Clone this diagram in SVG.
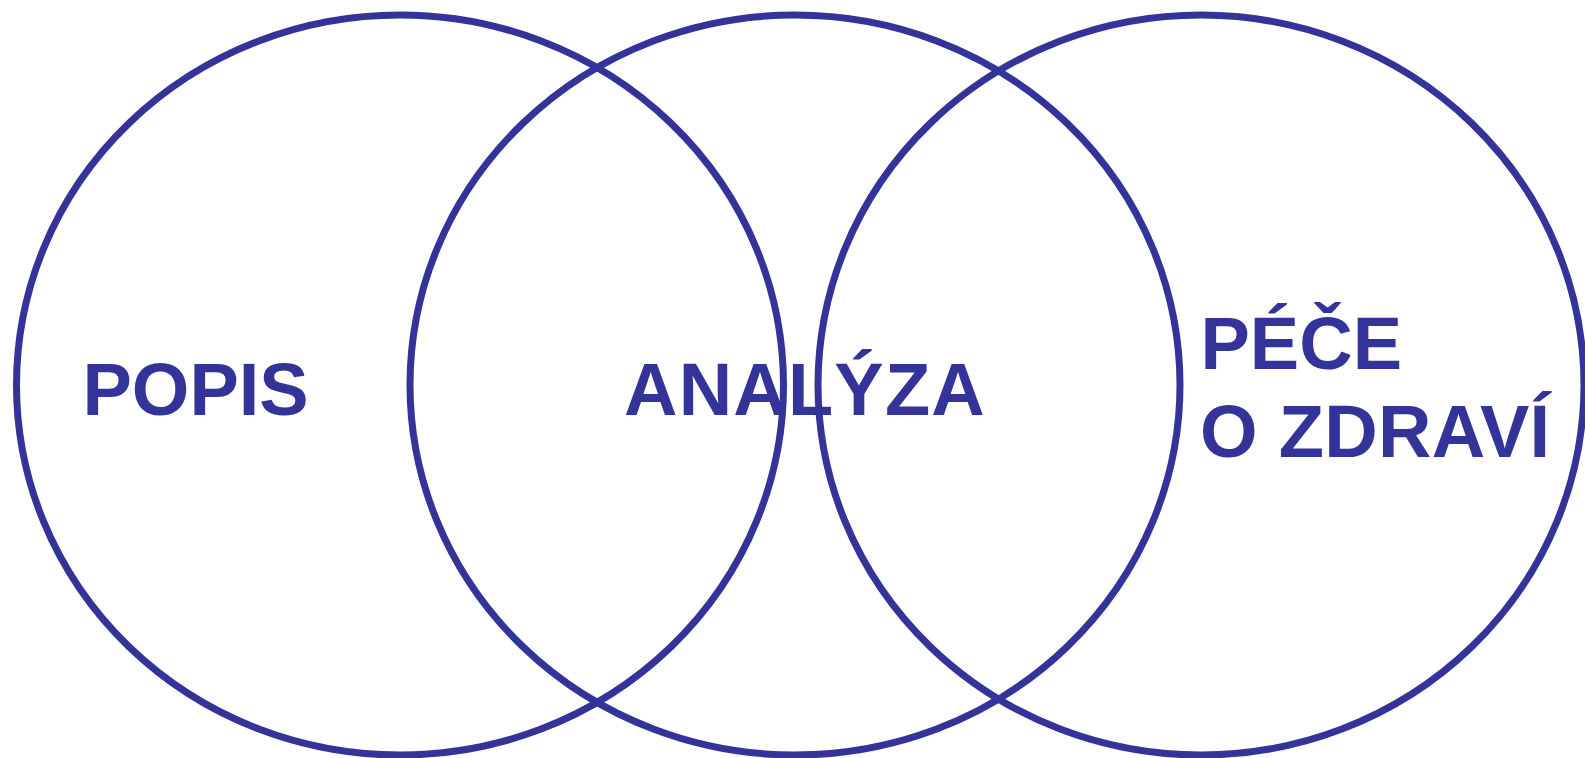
<svg xmlns="http://www.w3.org/2000/svg" width="1585" height="758" viewBox="0 0 1585 758">
<style>
.c{fill:none;stroke:#333399;stroke-width:7}
.t{font-family:"Liberation Sans",Arial,sans-serif;font-weight:bold;font-size:74px;fill:#333399}
</style>
<rect width="1585" height="758" fill="#ffffff"/>
<g id="circles">
<ellipse id="c-popis" class="c" cx="400" cy="385" rx="383.5" ry="370"/>
<ellipse id="c-analyza" class="c" cx="795" cy="385" rx="385" ry="370"/>
<ellipse id="c-pece" class="c" cx="1201" cy="385" rx="383" ry="370"/>
</g>
<g id="popis"><text class="t" x="82.5" y="415">POPIS</text></g>
<g id="analyza"><text class="t" x="624" y="415" letter-spacing="1.2">ANALÝZA</text></g>
<g id="pece">
<text class="t" x="1200.5" y="369">PÉČE</text>
<text class="t" x="1200" y="457" letter-spacing="0.3">O ZDRAVÍ</text>
</g>
</svg>
